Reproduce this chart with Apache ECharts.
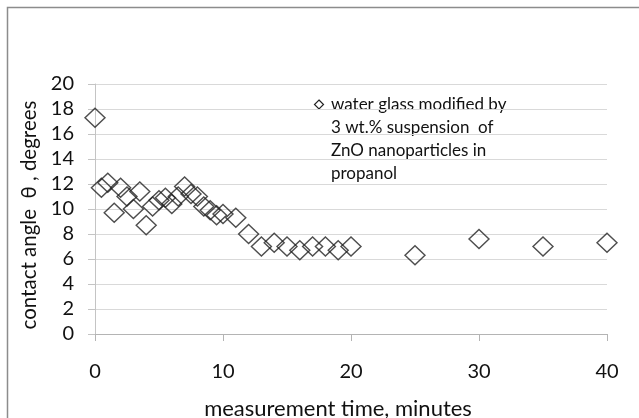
<!DOCTYPE html>
<html>
<head>
<meta charset="utf-8">
<script src="https://cdn.jsdelivr.net/npm/echarts@6/dist/echarts.min.js"></script>
<style>
    html, body { margin: 0; padding: 0; background: #fff; }
    #chart { width: 639px; height: 418px; }
</style>
</head>
<body>
<div id="chart"></div>
<script>
// measurement time (minutes) and contact angle (degrees)
var times = [0, 0.5, 1, 1.5, 2, 2.5, 3, 3.5, 4, 4.5, 5, 5.5, 6, 6.5, 7, 7.5, 8, 8.5, 9, 9.5, 10,
    11, 12, 13, 14, 15, 16, 17, 18, 19, 20, 25, 30, 35, 40];
var angles = [17.3, 11.7, 12.1, 9.7, 11.7, 11.0, 10.0, 11.4, 8.7, 10.2, 10.7, 10.9, 10.4, 11.0, 11.8, 11.2, 11.0, 10.2, 9.9, 9.5, 9.6,
    9.3, 8.0, 7.0, 7.3, 7.0, 6.7, 7.0, 7.0, 6.7, 7.0, 6.3, 7.6, 7.0, 7.3];
var legendLines = ['water glass modified by', '3 wt.% suspension  of', 'ZnO nanoparticles in', 'propanol'];

var FONT = 'Lato';
var TEXT = '#111';

var myChart = echarts.init(document.getElementById('chart'));

var data = times.map(function (t, i) {
    return [t, angles[i]];
});

var option = {
    animation: false,
    textStyle: { fontFamily: FONT },
    grid: {
        left: 95,
        right: 32,
        top: 84,
        bottom: 84,
        outerBoundsMode: 'none'
    },
    xAxis: {
        type: 'value',
        min: 0,
        max: 40,
        interval: 10,
        name: 'measurement time, minutes',
        nameLocation: 'middle',
        nameGap: 64,
        nameTextStyle: { fontSize: 22, color: TEXT, fontFamily: FONT, padding: [0, 26, 0, 0] },
        axisLine: { show: true, onZero: false, lineStyle: { color: '#b4b4b4', width: 1 } },
        axisTick: { show: true, inside: false, length: 7, lineStyle: { color: '#b4b4b4' } },
        axisLabel: { fontSize: 20, color: TEXT, margin: 28, fontFamily: FONT },
        splitLine: { show: false }
    },
    yAxis: {
        type: 'value',
        min: 0,
        max: 20,
        interval: 2,
        name: 'contact angle  \u03b8 , degrees',
        nameLocation: 'middle',
        nameGap: 46,
        nameTextStyle: { fontSize: 20.5, color: TEXT, fontFamily: FONT, padding: [0, 12, 0, 0] },
        axisLine: { show: true, lineStyle: { color: '#c4c4c4', width: 1 } },
        axisTick: { show: true, length: 7, lineStyle: { color: '#c4c4c4' } },
        axisLabel: { fontSize: 20, color: TEXT, margin: 21, fontFamily: FONT },
        splitLine: { show: true, lineStyle: { color: '#d9d9d9', width: 1 } }
    },
    series: [{
        name: legendLines.join('\n'),
        type: 'scatter',
        symbol: 'diamond',
        symbolSize: [20, 19],
        itemStyle: {
            color: 'rgba(0,0,0,0)',
            borderColor: '#222',
            borderWidth: 1.4
        },
        data: data
    }],
    graphic: [{
        type: 'rect',
        silent: true,
        shape: { x: 7.5, y: 7.5, width: 700, height: 500 },
        style: { fill: 'none', stroke: '#8c8c8c', lineWidth: 1.5 }
    }, {
        type: 'polygon',
        silent: true,
        shape: { points: [[319, 100], [323.5, 104.5], [319, 109], [314.5, 104.5]] },
        style: { fill: '#fff', stroke: '#222', lineWidth: 1.2 }
    }, {
        type: 'text',
        silent: true,
        left: 331,
        top: 93,
        style: {
            text: legendLines.join('\n'),
            fontSize: 17,
            lineHeight: 23,
            fontFamily: FONT,
            fill: TEXT
        }
    }]
};
myChart.setOption(option);
</script>
</body>
</html>
